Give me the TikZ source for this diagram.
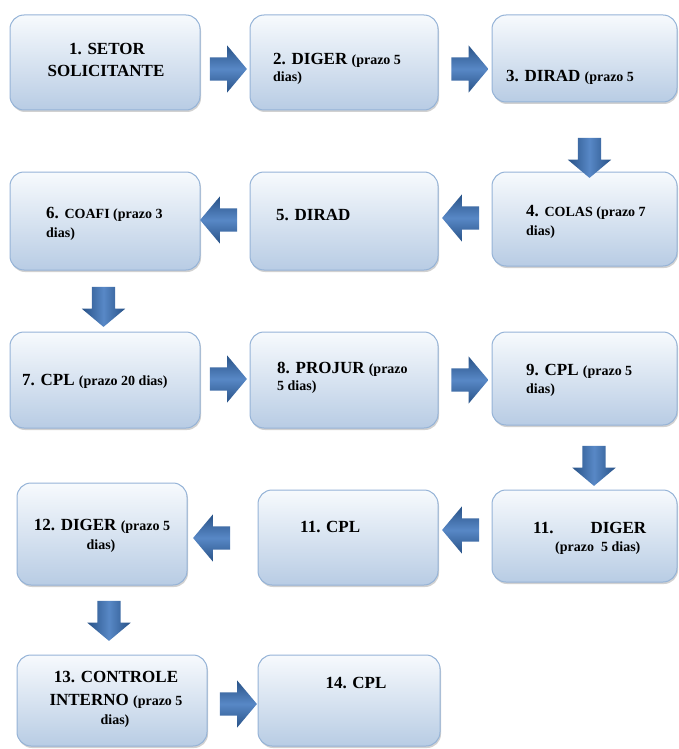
\documentclass[tikz,border=0pt]{standalone}
\usepackage{fontspec}
\setmainfont{Liberation Serif}
\usetikzlibrary{shapes.arrows,shadows,fit}
\definecolor{boxtop}{RGB}{247,250,253}
\definecolor{boxbot}{RGB}{184,204,228}
\definecolor{boxline}{RGB}{149,179,215}
\definecolor{arrdark}{RGB}{40,82,135}
\definecolor{arrlight}{RGB}{88,136,198}
\newcommand\smtxt{\fontsize{14}{16}\selectfont}
\tikzset{
  box/.style={draw=boxline, line width=1pt, rounded corners=14pt, inner sep=0pt,
    top color=boxtop, bottom color=boxbot,
    drop shadow={shadow xshift=1pt, shadow yshift=-2pt, fill=black!40, opacity=0.45}},
  arrbase/.style={single arrow, draw=none, single arrow tip angle=100},
  harr/.style={arrbase, inner xsep=0pt, inner ysep=11.5pt,
    minimum height=37pt, minimum width=47pt,
    single arrow head extend=12pt,
    top color=arrdark, bottom color=arrdark, middle color=arrlight},
  varr/.style={arrbase, shape border rotate=270, inner xsep=11.5pt, inner ysep=0pt,
    minimum height=40pt, minimum width=43pt,
    single arrow head extend=10pt,
    left color=arrdark, right color=arrdark, middle color=arrlight},
  lbl/.style={inner sep=0pt, font=\fontsize{17}{19}\selectfont\bfseries, text=black},
}
\begin{document}
\begin{tikzpicture}[x=1pt,y=-1pt]
\useasboundingbox (0,0) rectangle (679,749);
% boxes
\node[box, fit={(10,15) (200,110)}] (b1) {};
\node[box, fit={(250,15) (438,110)}] (b2) {};
\node[box, fit={(492,15) (677,102)}] (b3) {};
\node[box, fit={(492,172) (677,266)}] (b4) {};
\node[box, fit={(250,172) (438,270)}] (b5) {};
\node[box, fit={(10,172) (200,270)}] (b6) {};
\node[box, fit={(10,332) (200,428)}] (b7) {};
\node[box, fit={(250,332) (438,428)}] (b8) {};
\node[box, fit={(492,332) (677,425)}] (b9) {};
\node[box, fit={(492,490) (677,582)}] (b10) {};
\node[box, fit={(258,490) (438,585)}] (b11) {};
\node[box, fit={(17,483) (187,585)}] (b12) {};
\node[box, fit={(17,655) (207,746)}] (b13) {};
\node[box, fit={(258,655) (440,746)}] (b14) {};
% arrows
\node[harr] (a12) at (223.5,69) {};
\node[harr] (a23) at (465,69) {};
\node[varr] (a34) at (589.5,153) {};
\node[harr, shape border rotate=180] (a45) at (465.5,218) {};
\node[harr, shape border rotate=180] (a56) at (223.5,220) {};
\node[varr] (a67) at (103.5,302) {};
\node[harr] (a78) at (223.5,379) {};
\node[harr] (a89) at (465,380) {};
\node[varr] (a910) at (594,461) {};
\node[harr, shape border rotate=180] (a1011) at (465.5,530) {};
\node[harr, shape border rotate=180] (a1112) at (216.5,538) {};
\node[varr] (a1213) at (109,616) {};
\node[harr] (a1314) at (233.5,704) {};
% texts
\node[lbl, anchor=base] (t1a) at (107,55) {1. SETOR};
\node[lbl, anchor=base] (t1b) at (106,77) {SOLICITANTE};
\node[lbl, anchor=base west] (t2a) at (273,65) {2. DIGER {\smtxt(prazo 5}};
\node[lbl, anchor=base west] (t2b) at (273,82) {\smtxt dias)};
\node[lbl, anchor=base west] (t3a) at (506,82) {3. DIRAD {\smtxt(prazo 5}};
\node[lbl, anchor=base west] (t4a) at (526,216) {4. {\smtxt COLAS (prazo 7}};
\node[lbl, anchor=base west] (t4b) at (526,235) {\smtxt dias)};
\node[lbl, anchor=base west] (t5a) at (276,220) {5. DIRAD};
\node[lbl, anchor=base west] (t6a) at (46,218) {6. {\smtxt COAFI (prazo 3}};
\node[lbl, anchor=base west] (t6b) at (46,237) {\smtxt dias)};
\node[lbl, anchor=base west] (t7a) at (22,385) {7. CPL {\smtxt(prazo 20 dias)}};
\node[lbl, anchor=base west] (t8a) at (277,373) {8. PROJUR {\smtxt(prazo}};
\node[lbl, anchor=base west] (t8b) at (277,390) {\smtxt 5 dias)};
\node[lbl, anchor=base west] (t9a) at (526,375) {9. CPL {\smtxt(prazo 5}};
\node[lbl, anchor=base west] (t9b) at (526,393) {\smtxt dias)};
\node[lbl, anchor=base west] (t10a) at (533,533) {11.\hskip 37pt DIGER};
\node[lbl, anchor=base west] (t10b) at (555,551) {\smtxt(prazo\ \ 5 dias)};
\node[lbl, anchor=base west] (t11a) at (300,532) {11. CPL};
\node[lbl, anchor=base] (t12a) at (102,530) {12. DIGER {\smtxt(prazo 5}};
\node[lbl, anchor=base] (t12b) at (101,549) {\smtxt dias)};
\node[lbl, anchor=base] (t13a) at (116,682) {13. CONTROLE};
\node[lbl, anchor=base] (t13b) at (116,705) {INTERNO {\smtxt(prazo 5}};
\node[lbl, anchor=base] (t13c) at (115,724) {\smtxt dias)};
\node[lbl, anchor=base] (t14a) at (356,688) {14. CPL};
\end{tikzpicture}
\end{document}
